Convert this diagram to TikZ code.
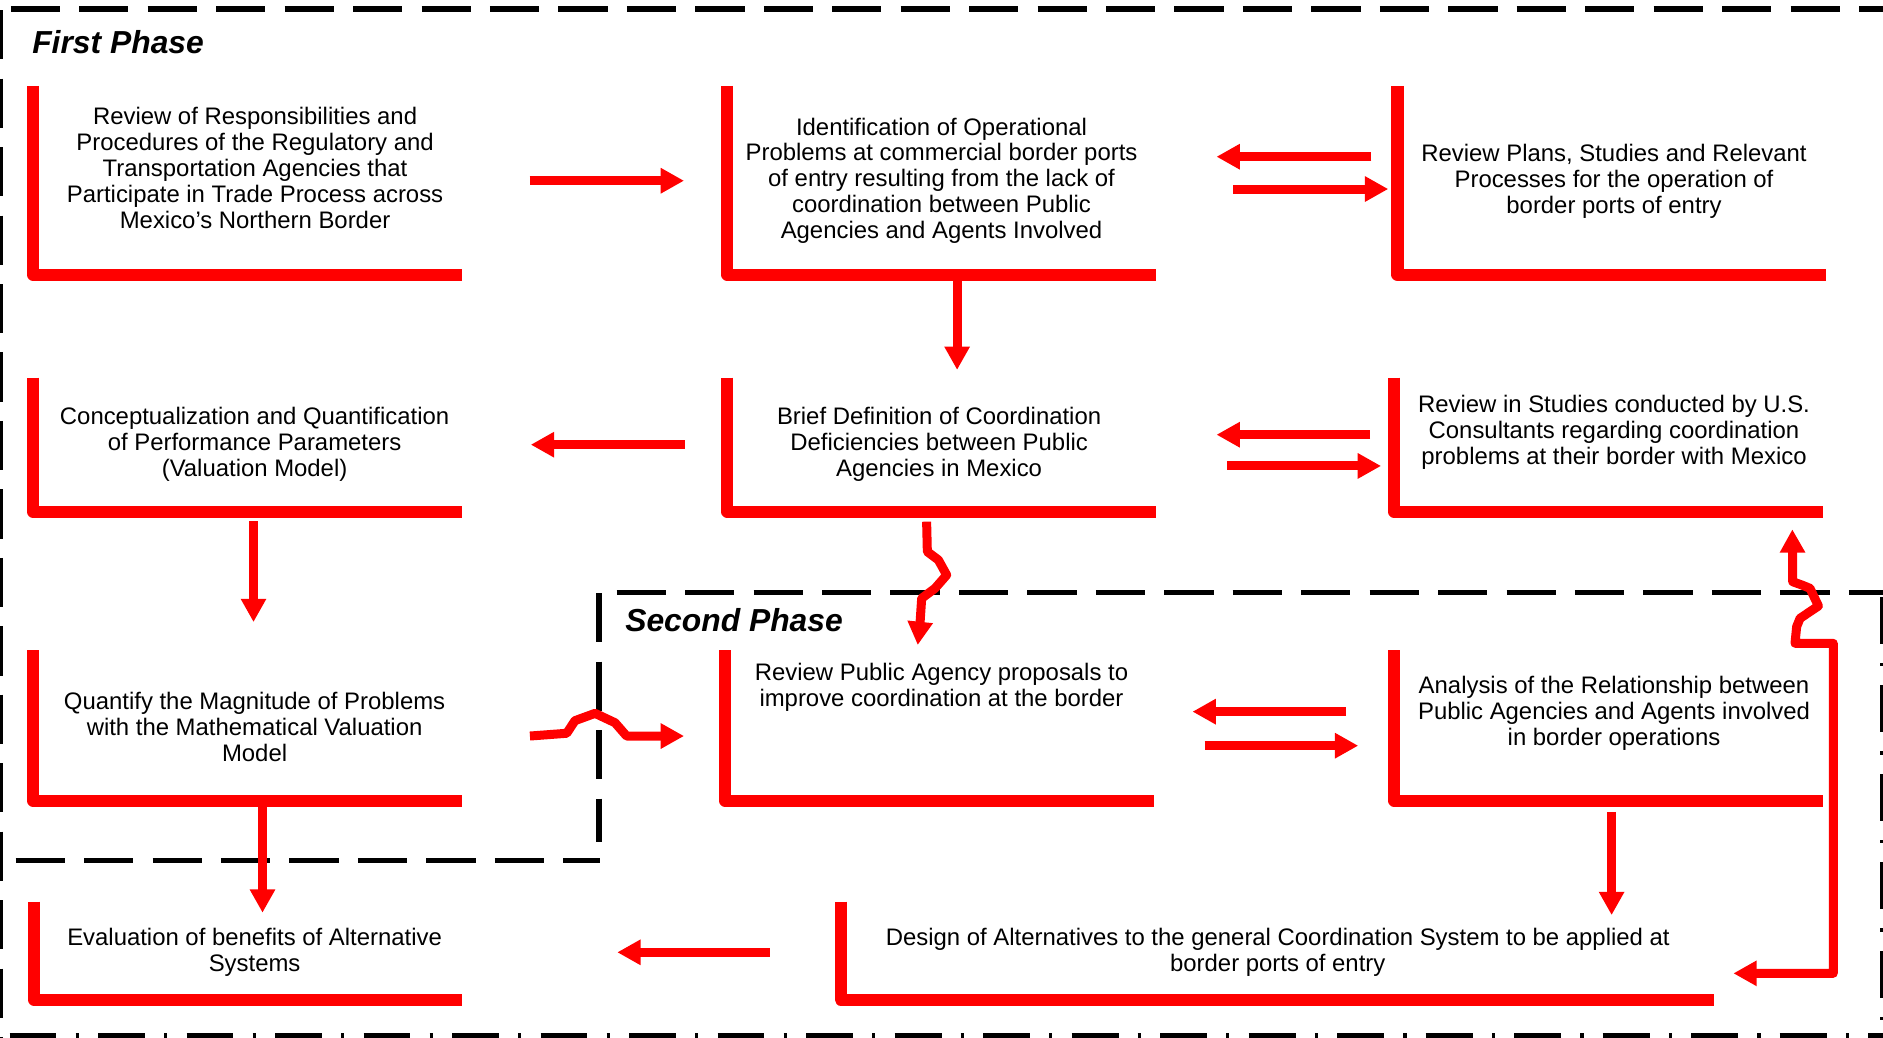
\documentclass[tikz,border=0pt]{standalone}
\usepackage{fontspec}
\setmainfont{Liberation Sans}
\usetikzlibrary{arrows.meta,calc}

\begin{document}
\begin{tikzpicture}[x=1pt,y=-1pt,
  frame/.style={draw=none,rectangle,inner sep=0pt,outer sep=0pt},
  lbar/.style={draw=red,line width=10pt,line join=round,line cap=butt},
  txt/.style={align=center,font=\fontsize{19.9}{21.6}\selectfont,inner sep=0pt},
  phase/.style={font=\fontsize{26.5}{30}\selectfont\bfseries\itshape,inner sep=0pt,anchor=west},
  arr/.style={draw=red,line width=7.5pt,-{Triangle[length=19.4pt,width=20pt]}},
  wig/.style={arr,line join=round},
  darr/.style={draw=red,line width=7.5pt,line join=round,
    {Triangle[length=19.4pt,width=20pt]}-{Triangle[length=19.4pt,width=20pt]}},
  dashline/.style={line width=4.2pt,dash pattern=on 41pt off 16pt},
  dotline/.style={line width=4.2pt,dash pattern=on 39pt off 16pt on 2.7pt off 16pt}
]
\useasboundingbox (0,0) rectangle (1568,864);

% phase frames
\draw[dashline] (9,7.5) -- (1600,7.5);
\draw[dashline] (0,8.5) -- (0,870);
\draw[dashline] (513.5,493.4) -- (1569,493.4);
\draw[dashline] (498.8,494) -- (498.8,701);
\draw[dashline] (13,716.9) -- (500,716.9);
\draw[dotline] (1567.5,497) -- (1567.5,870);
\draw[dotline] (8,862.3) -- (1570,862.3);

\node[phase] (p1) at (26.7,35.4) {First Phase};
\node[phase] (p2) at (520.5,516) {Second Phase};

% step frames
\node[frame,minimum width=357.2pt,minimum height=157.1pt] (A) at (206.1,150.15) {};
\node[frame,minimum width=356.9pt,minimum height=157.1pt] (B) at (784.15,150.15) {};
\node[frame,minimum width=356.6pt,minimum height=157.1pt] (C) at (1342,150.15) {};
\node[frame,minimum width=357.2pt,minimum height=111.6pt] (D) at (206.1,370.3) {};
\node[frame,minimum width=356.9pt,minimum height=111.6pt] (E) at (784.15,370.3) {};
\node[frame,minimum width=356.8pt,minimum height=111.6pt] (F) at (1339.4,370.3) {};
\node[frame,minimum width=357.2pt,minimum height=125.3pt] (G) at (206.1,603.95) {};
\node[frame,minimum width=357.3pt,minimum height=125.3pt] (H) at (782.35,603.95) {};
\node[frame,minimum width=356.8pt,minimum height=125.3pt] (I) at (1339.4,603.95) {};
\node[frame,minimum width=356.4pt,minimum height=81.6pt] (J) at (206.5,791.6) {};
\node[frame,minimum width=727.3pt,minimum height=81.6pt] (K) at (1063.65,791.6) {};

\foreach \n in {A,B,C,D,E,F,G,H,I,J,K}
  \draw[lbar] (\n.north west) -- (\n.south west) -- (\n.south east);

% step texts
\node[txt] (A-t) at (212.4,139.9) {Review of Responsibilities and\\Procedures of the Regulatory and\\Transportation Agencies that\\Participate in Trade Process across\\Mexico’s Northern Border};
\node[txt] (B-t) at (784,150.5) {Identification of Operational\\Problems at commercial border ports\\of entry resulting from the lack of\\coordination between Public\\Agencies and Agents Involved};
\node[txt] (C-t) at (1344,151) {Review Plans, Studies and Relevant\\Processes for the operation of\\border ports of entry};
\node[txt] (D-t) at (212,370) {Conceptualization and Quantification\\of Performance Parameters\\(Valuation Model)};
\node[txt] (E-t) at (782,370) {Brief Definition of Coordination\\Deficiencies between Public\\Agencies in Mexico};
\node[txt] (F-t) at (1344,360) {Review in Studies conducted by U.S.\\Consultants regarding coordination\\problems at their border with Mexico};
\node[txt] (G-t) at (212,605) {Quantify the Magnitude of Problems\\with the Mathematical Valuation\\Model};
\node[txt] (H-t) at (784,572.5) {Review Public Agency proposals to\\improve coordination at the border};
\node[txt] (I-t) at (1344,594) {Analysis of the Relationship between\\Public Agencies and Agents involved\\in border operations};
\node[txt] (J-t) at (212,793) {Evaluation of benefits of Alternative\\Systems};
\node[txt] (K-t) at (1064,793) {Design of Alternatives to the general Coordination System to be applied at\\border ports of entry};

% connectors
\draw[arr] ($(A.east)+(56.3,0.35)$) -- ($(B.west)+(-36.1,0.35)$);
\draw[arr] ($(C.west)+(-21.7,-19.65)$) -- ($(B.east)+(50.4,-19.65)$);
\draw[arr] ($(B.east)+(64.4,7.25)$) -- ($(C.west)+(-7.7,7.25)$);
\draw[arr] ($(B.south)+(12.85,4.3)$) -- ($(E.north)+(12.85,-6.5)$);
\draw[arr] ($(E.west)+(-35.7,0)$) -- ($(D.east)+(57.3,0)$);
\draw[arr] ($(F.west)+(-20,-8.3)$) -- ($(E.east)+(50.4,-8.3)$);
\draw[arr] ($(E.east)+(59.4,17.7)$) -- ($(F.west)+(-11,17.7)$);
\draw[arr] ($(D.south)+(5,8)$) -- ($(G.north)+(5,-23.3)$);
\draw[wig] ($(E.south)+(-12.55,8.3)$) -- ++(0.6,25) -- ++(9.2,6.9) -- ++(6.9,12.5)
  -- ++(-9.7,11.1) -- ++(-11.1,8.3) -- ++(-1.4,20.8) -- ($(H.north)+(-18.15,-4.2)$);
\draw[wig] ($(G.east)+(56.6,8.95)$) -- ++(30.6,-2.3) -- ++(6.9,-10.5) -- ++(16.7,-6.1)
  -- ++(16.6,7.8) -- ++(9.7,11.1) -- ($(H.west)+(-34.1,8.95)$);
\draw[arr] ($(I.west)+(-40,-11.35)$) -- ($(H.east)+(32,-11.35)$);
\draw[arr] ($(H.east)+(42,17)$) -- ($(I.west)+(-30,17)$);
\draw[darr] ($(F.south)+(153.1,14.7)$) -- ++(0.3,43.6) -- ++(7.5,2.7) -- ++(6.9,2.8)
  -- ++(7,14.7) -- ++(-15.3,10.3) -- ++(-2.8,6.9) -- ++(-1.4,13.9) -- ++(31.9,0)
  -- ++(0,274.8) -- ($(K.east)+(16.1,18.9)$);
\draw[arr] ($(I.south)+(2.6,9.4)$) -- ($(K.north)+(278.35,11.2)$);
\draw[arr] ($(K.west)+(-59,1.4)$) -- ($(J.east)+(129.3,1.4)$);
\draw[arr] ($(G.south)+(12.5,4)$) -- ($(J.north)+(12.1,9.2)$);
\end{tikzpicture}
\end{document}
